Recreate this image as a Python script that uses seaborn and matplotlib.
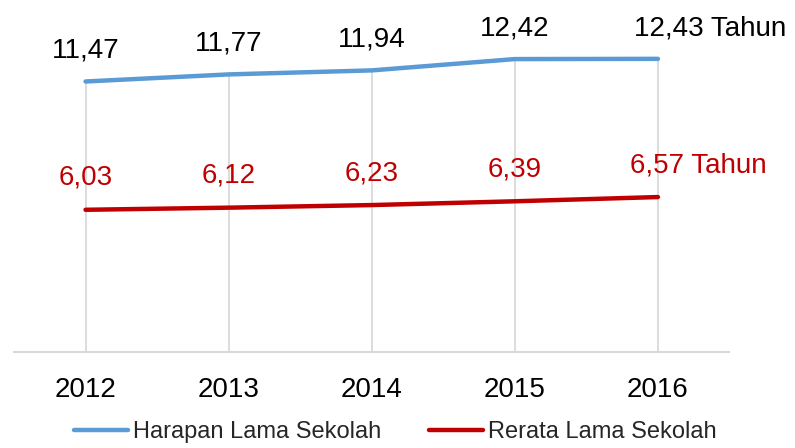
import matplotlib
matplotlib.use("Agg")
import matplotlib.pyplot as plt
import seaborn as sns
import pandas as pd

years = ["2012", "2013", "2014", "2015", "2016"]
harapan = [11.47, 11.77, 11.94, 12.42, 12.43]
rerata = [6.03, 6.12, 6.23, 6.39, 6.57]
series_names = ["Harapan Lama Sekolah", "Rerata Lama Sekolah"]
unit = "Tahun"

sns.set_theme(style="white")
plt.rcParams['font.family'] = ['Liberation Sans', 'DejaVu Sans']

df = pd.DataFrame({
    "Tahun": years * 2,
    "Nilai": harapan + rerata,
    "Seri": [series_names[0]] * len(years) + [series_names[1]] * len(years),
})

colors = {series_names[0]: "#5B9BD5", series_names[1]: "#C00000"}

fig = plt.figure(figsize=(7.95, 4.48), dpi=100)
ax = fig.add_axes([0.0176, 0.2143, 0.9, 0.737])

# drop lines
ax.vlines(range(len(years)), 0, harapan, colors="#D9D9D9", linewidth=1.3, zorder=1)

sns.lineplot(data=df, x="Tahun", y="Nilai", hue="Seri", palette=colors,
             linewidth=3.2, ax=ax, legend=True, zorder=3)

ax.set_xlim(-0.5, len(years) - 0.5)
ax.set_ylim(0, 14)
ax.set_yticks([])
ax.set_xlabel("")
ax.set_ylabel("")
for s in ["top", "left", "right"]:
    ax.spines[s].set_visible(False)
ax.spines["bottom"].set_color("#D9D9D9")
ax.spines["bottom"].set_linewidth(1.5)
ax.tick_params(axis="x", length=0, pad=18, labelsize=20, labelcolor="black")

def fmt(v):
    return f"{v:.2f}".replace(".", ",")

for i, v in enumerate(harapan):
    last = i == len(years) - 1
    txt = fmt(v) + (" " + unit if last else "")
    ax.annotate(txt, (i, v), xytext=(-17 if last else 0, 17), textcoords="offset points",
                ha="left" if last else "center", va="baseline", fontsize=20, color="black")
for i, v in enumerate(rerata):
    last = i == len(years) - 1
    txt = fmt(v) + (" " + unit if last else "")
    ax.annotate(txt, (i, v), xytext=(-20 if last else 0, 18), textcoords="offset points",
                ha="left" if last else "center", va="baseline", fontsize=20, color="#C00000")

handles, labels = ax.get_legend_handles_labels()
ax.legend(handles, labels, loc="center", bbox_to_anchor=(0.497, 0.035),
          bbox_transform=fig.transFigure, ncol=2, frameon=False, fontsize=17,
          handlelength=2.3, handletextpad=0.2, columnspacing=2.0)

fig.savefig("out.png", dpi=100)
